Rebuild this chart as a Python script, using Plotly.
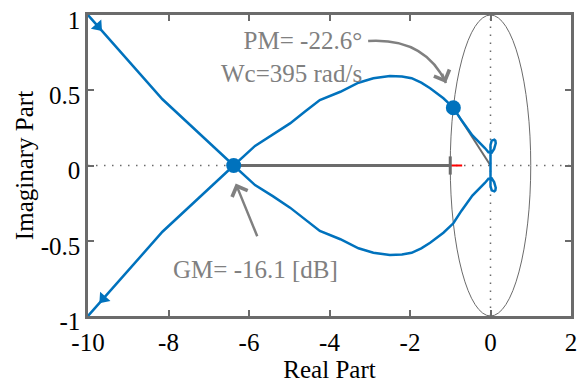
import plotly.graph_objects as go

# Nyquist response, positive-frequency branch (from low frequency to the origin)
re_pos = [-12.0, -10.0, -8.15, -6.38, -5.85, -5.40, -4.98, -4.60, -4.24, -3.73,
          -3.28, -2.91, -2.50, -2.20, -1.96, -1.72, -1.50, -1.17, -0.923, -0.72,
          -0.45, -0.14, -0.05, 0.03, 0.09, 0.13, 0.12, 0.095, 0.03, 0.0,
          -0.005, 0.0, 0.0]
im_pos = [1.57, 1.0, 0.44, 0.0, 0.13, 0.205, 0.28, 0.36, 0.435, 0.49,
          0.55, 0.58, 0.595, 0.592, 0.58, 0.55, 0.513, 0.447, 0.384, 0.30,
          0.20, 0.116, 0.088, 0.085, 0.11, 0.148, 0.165, 0.172, 0.165, 0.136,
          0.09, 0.04, 0.0]

# Margin points
gm_point = (-6.38, 0.0)
pm_point = (-0.923, 0.384)
critical_point = (-1.0, 0.0)
gm_text = "GM= -16.1 [dB]"
pm_text = "PM= -22.6°<br>Wc=395 rad/s"

# Direction markers on the two branches (x, y, rotation)
arrow_x = [-9.75, -9.62]
arrow_y = [0.924, -0.885]
arrow_rot = [138.5, 221.5]

x_ticks = [-10, -8, -6, -4, -2, 0, 2]
y_ticks = [-1, -0.5, 0, 0.5, 1]
y_ticktext = ["-1", "-0.5", "0", "0.5", "1"]

BLUE = "#0072BD"
GRAY = "#6b6b6b"
TXT_GRAY = "#808080"
FONT = "Liberation Serif"

# negative-frequency branch is the mirror image
re_neg = re_pos[::-1][1:]
im_neg = [-v for v in im_pos[::-1][1:]]
re_all = re_pos + re_neg
im_all = im_pos + im_neg

fig = go.Figure()

# red critical point marker
fig.add_trace(go.Scatter(x=[critical_point[0]], y=[critical_point[1]], mode="markers",
                         marker=dict(symbol="line-ew", size=17, line=dict(color="red", width=2)),
                         hoverinfo="skip"))
fig.add_trace(go.Scatter(x=[critical_point[0]], y=[critical_point[1]], mode="markers",
                         marker=dict(symbol="line-ns", size=13, line=dict(color=GRAY, width=3)),
                         hoverinfo="skip"))

# gain margin segment along the real axis
fig.add_trace(go.Scatter(x=[gm_point[0], critical_point[0]], y=[0, 0], mode="lines",
                         line=dict(color=GRAY, width=3), hoverinfo="skip"))
# phase margin ray from the origin
fig.add_trace(go.Scatter(x=[0, pm_point[0]], y=[0, pm_point[1]], mode="lines",
                         line=dict(color=GRAY, width=2), hoverinfo="skip"))

# Nyquist curve
fig.add_trace(go.Scatter(x=re_all, y=im_all, mode="lines",
                         line=dict(color=BLUE, width=2.5), hoverinfo="skip"))
fig.add_trace(go.Scatter(x=arrow_x, y=arrow_y, mode="markers",
                         marker=dict(symbol="triangle-up", size=12, color=BLUE,
                                     angle=arrow_rot),
                         hoverinfo="skip"))
fig.add_trace(go.Scatter(x=[gm_point[0], pm_point[0]], y=[gm_point[1], pm_point[1]],
                         mode="markers", marker=dict(size=15, color=BLUE),
                         hoverinfo="skip"))

# unit circle and dotted zero lines
fig.add_shape(type="circle", xref="x", yref="y", x0=-1, x1=1, y0=-1, y1=1,
              line=dict(color=GRAY, width=1), layer="below")
fig.add_shape(type="line", xref="x", yref="y", x0=-10, x1=2, y0=0, y1=0,
              line=dict(color=GRAY, width=1.5, dash="1.5px,6.5px"), layer="below")
fig.add_shape(type="line", xref="x", yref="y", x0=0, x1=0, y0=-1, y1=1,
              line=dict(color=GRAY, width=1.5, dash="1.5px,6.5px"), layer="below")

# curved pointer towards the phase-margin point
fig.add_shape(type="path", xref="x", yref="y",
              path="M -3.04,0.827 Q -1.63,0.85 -1.106,0.548",
              line=dict(color=TXT_GRAY, width=2.5))
fig.add_annotation(x=-1.106, y=0.548, ax=-1.22, ay=0.62, axref="x", ayref="y",
                   xref="x", yref="y", text="", showarrow=True,
                   arrowhead=4, arrowsize=1.3, arrowwidth=2.5, arrowcolor=TXT_GRAY)
fig.add_annotation(x=-3.15, y=0.72, xref="x", yref="y", text=pm_text,
                   showarrow=False, align="right", xanchor="right", yanchor="middle",
                   font=dict(family=FONT, size=25, color=TXT_GRAY))

# pointer towards the gain-margin point
fig.add_annotation(x=-6.33, y=-0.12, ax=-5.78, ay=-0.48, axref="x", ayref="y",
                   xref="x", yref="y", text="", showarrow=True,
                   arrowhead=4, arrowsize=1.3, arrowwidth=2.5, arrowcolor=TXT_GRAY)
fig.add_annotation(x=-5.85, y=-0.69, xref="x", yref="y", text=gm_text,
                   showarrow=False, xanchor="center", yanchor="middle",
                   font=dict(family=FONT, size=25, color=TXT_GRAY))

axis_style = dict(showline=True, linecolor=GRAY, linewidth=2.5, mirror="ticks",
                  ticks="inside", ticklen=6, tickwidth=2, tickcolor=GRAY,
                  showgrid=False, zeroline=False, automargin=False,
                  tickfont=dict(family=FONT, size=25, color="black"))

fig.update_xaxes(range=[-10, 2], tickvals=x_ticks, ticktext=[str(v) for v in x_ticks],
                 ticklabelstandoff=2,
                 title=dict(text="Real Part", font=dict(family=FONT, size=25, color="black"),
                            standoff=8),
                 **axis_style)
fig.update_yaxes(range=[-1, 1], tickvals=y_ticks, ticktext=y_ticktext,
                 ticklabelshift=5,
                 title=dict(text="Imaginary Part", font=dict(family=FONT, size=25, color="black"),
                            standoff=0),
                 **axis_style)

fig.update_layout(width=578, height=383, margin=dict(l=88, r=7, t=15, b=67),
                  paper_bgcolor="white", plot_bgcolor="white", showlegend=False)

fig.write_html("out.html")
